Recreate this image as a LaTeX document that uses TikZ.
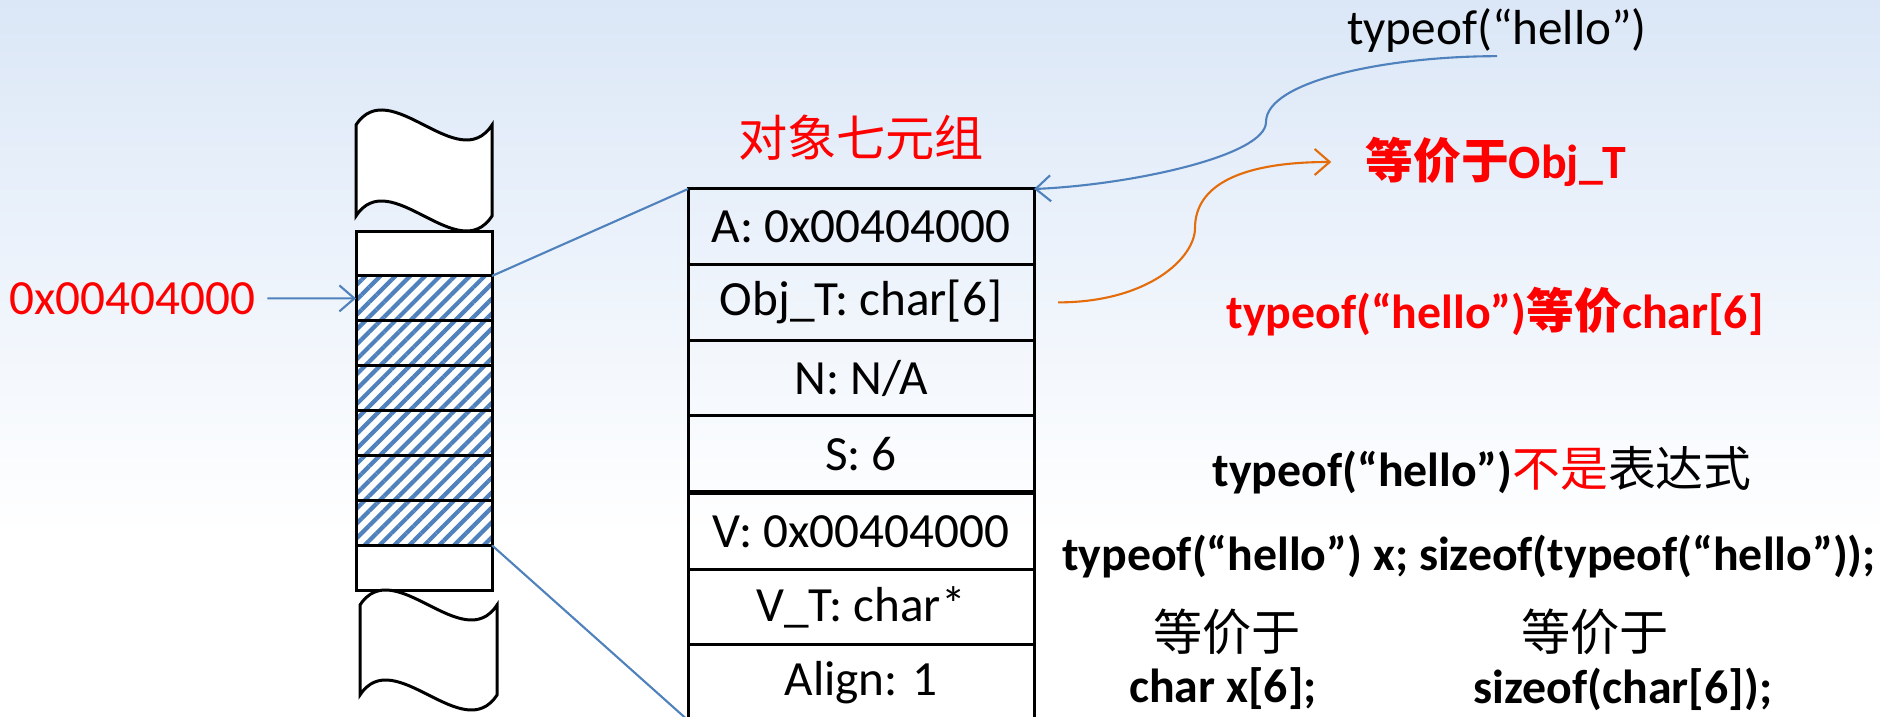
\documentclass[tikz,border=0pt]{standalone}
\usepackage{fontspec}
\setmainfont{Carlito}
\newfontfamily\cjk{Noto Sans CJK SC}
\usepackage{xcolor}
\usepackage{tikz}
\usetikzlibrary{positioning,arrows.meta,patterns.meta}

\definecolor{bgtop}{RGB}{219,231,247}
\definecolor{linkblue}{RGB}{79,129,189}
\definecolor{linkorange}{RGB}{228,108,10}
\definecolor{hotred}{RGB}{255,0,0}

\begin{document}
\begin{tikzpicture}[
    font=\fontsize{14}{17}\selectfont,
    memcell/.style={rectangle, draw, line width=0.85pt, fill=white, minimum width=1.36cm, minimum height=0.449cm, inner sep=0pt, outer sep=0pt},
    usedcell/.style={memcell, preaction={fill=white}, pattern={Lines[angle=45, distance=3pt, line width=1.2pt]}, pattern color=linkblue},
    torn/.style={draw, line width=0.85pt, fill=white},
    field/.style={rectangle, draw, line width=0.85pt, minimum width=3.46cm, minimum height=0.756cm, inner sep=0pt, outer sep=0pt},
    link/.style={draw=linkblue, line width=0.6pt},
    hint/.style={draw=linkorange, line width=0.6pt},
    ptr/.style={-{Straight Barb[length=1.5mm, width=2.6mm]}},
    note/.style={font=\fontsize{13.6}{16}\selectfont\bfseries, inner sep=1pt}
]
% Slide background
\useasboundingbox (0,0) rectangle (18.8,7.16);
\fill[white] (0,0) rectangle (18.8,7.16);
\shade[top color=bgtop, bottom color=white] (0,1.8) rectangle (18.8,7.16);

% Memory column, torn at both ends
\draw[torn] (3.56,5.91) .. controls (3.90,6.43) and (4.58,5.39) .. (4.92,5.91)
    -- (4.92,5.00) .. controls (4.58,4.48) and (3.90,5.52) .. (3.56,5.00) -- cycle;
\node[memcell] (m0) at (4.24,4.625) {};
\node[usedcell, below=0pt of m0] (m1) {};
\node[usedcell, below=0pt of m1] (m2) {};
\node[usedcell, below=0pt of m2] (m3) {};
\node[usedcell, below=0pt of m3] (m4) {};
\node[usedcell, below=0pt of m4] (m5) {};
\node[usedcell, below=0pt of m5] (m6) {};
\node[memcell, below=0pt of m6] (m7) {};
\draw[torn] (3.60,1.11) .. controls (3.94,1.63) and (4.63,0.59) .. (4.97,1.11)
    -- (4.97,0.21) .. controls (4.63,-0.31) and (3.94,0.73) .. (3.60,0.21) -- cycle;

% Address of the first byte
\node[text=hotred] (addr) at (1.32,4.176) {0x00404000};
\draw[link, ptr] (addr.east) -- (m1.west);

% Object tuple
\node[text=hotred] (title) at (8.61,5.78) {\cjk 对象七元组};
\node[field] (fa) at (8.61,4.892) {A: 0x00404000};
\node[field, below=0pt of fa] (fo) {Obj\_T: char[6]};
\node[field, below=0pt of fo] (fn) {N: N/A};
\node[field, below=0pt of fn] (fs) {S: 6};
\node[field, below=0.6pt of fs] (fv) {V: 0x00404000};
\node[field, below=0pt of fv] (fvt) {V\_T: char*};
\node[field, below=0pt of fvt] (fal) {Align: 1};

% Bytes to tuple
\draw[link] (m1.north east) -- (fa.north west);
\draw[link] (m6.south east) -- (fal.south west);

% Notes on the right
\node[inner sep=1pt] (tq) at (14.97,6.86) {typeof(“hello”)};
\node[note, text=hotred] (eqobj) at (14.96,5.54) {{\cjk 等价于}Obj\_T};
\node[note, text=hotred] (eqchar) at (14.95,4.04) {typeof(“hello”){\cjk 等价}char[6]};
\node[note] (notexpr) at (14.82,2.46) {typeof(“hello”){\cjk\mdseries\textcolor{hotred}{不是}表达式}};
\node[note] (decl) at (14.69,1.59) {typeof(“hello”) x; sizeof(typeof(“hello”));};
\node[font=\fontsize{14}{17}\selectfont\cjk, inner sep=1pt] (eqa) at (12.27,0.84) {等价于};
\node[font=\fontsize{14}{17}\selectfont\cjk, inner sep=1pt] (eqb) at (15.95,0.84) {等价于};
\node[note] (charx) at (12.23,0.27) {char x[6];};
\node[note] (sizechar) at (16.23,0.27) {sizeof(char[6]);};

% Curved pointers
\coordinate (bluebend) at (12.66,5.94);
\draw[link, ptr] (tq.south) .. controls +(-1.1,0) and +(0,0.41) .. (bluebend)
    .. controls +(0,-0.34) and +(0.96,0.04) .. (fa.north east);
\coordinate (orangebend) at (11.95,4.88);
\draw[hint, ptr] ([xshift=0.24cm]fo.east) .. controls +(0.9,0) and +(0,-0.3) .. (orangebend)
    .. controls +(0,0.42) and +(-0.92,0) .. ([xshift=-0.3cm]eqobj.west);
\end{tikzpicture}
\end{document}
